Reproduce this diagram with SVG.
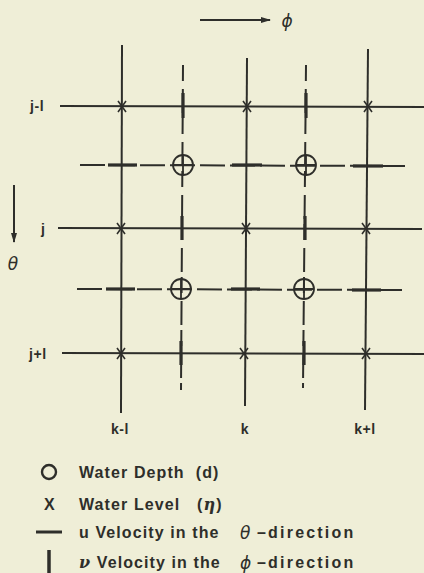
<svg xmlns="http://www.w3.org/2000/svg" width="424" height="573" viewBox="0 0 424 573">
<defs>
<style>
.ln{stroke:#2e2e2a;stroke-width:2;fill:none;stroke-linecap:butt}
.dl{stroke:#2e2e2a;stroke-width:2;fill:none;stroke-dasharray:25 5}
.dv{stroke:#2e2e2a;stroke-width:2;fill:none;stroke-dasharray:16 8 24 5}
.thk{stroke:#2e2e2a;stroke-width:3.2;fill:none}
.cir{stroke:#2e2e2a;stroke-width:1.8;fill:none}
.xm{stroke:#2e2e2a;stroke-width:1.6;fill:none}
.lb{font-family:"Liberation Sans",Arial,sans-serif;font-size:14px;font-weight:bold;fill:#2e2e2a;letter-spacing:0.6px}
.lg{font-family:"Liberation Sans",Arial,sans-serif;font-size:16px;font-weight:bold;fill:#2e2e2a;letter-spacing:1.1px}
.dir{letter-spacing:2.2px}
.gk{font-family:"DejaVu Sans",sans-serif;font-size:17px;font-style:italic;fill:#2e2e2a}
</style>
<marker id="ah" markerWidth="10" markerHeight="8" refX="9" refY="4" orient="auto" markerUnits="userSpaceOnUse">
<path d="M0,1 L10,4 L0,7 Z" fill="#2e2e2a"/>
</marker>
</defs>
<rect width="424" height="573" fill="#efeed7"/>
<g id="connectors">
<line class="ln" x1="200" y1="20" x2="270" y2="20" marker-end="url(#ah)"/>
<line class="ln" x1="14" y1="185" x2="14" y2="242" marker-end="url(#ah)"/>
<line class="ln" x1="122" y1="45" x2="121" y2="413"/>
<line class="ln" x1="247" y1="58" x2="245" y2="406"/>
<line class="ln" x1="368" y1="49" x2="365" y2="410"/>
<line class="ln" x1="60" y1="106" x2="424" y2="107"/>
<line class="ln" x1="58" y1="228" x2="422" y2="229"/>
<line class="ln" x1="62" y1="353" x2="424" y2="354"/>
<line class="dv" x1="183" y1="65" x2="181" y2="390"/>
<line class="dv" x1="306" y1="65" x2="303" y2="388"/>
<line class="dl" x1="80" y1="165" x2="405" y2="166"/>
<line class="dl" x1="77" y1="289" x2="402" y2="290"/>
</g>
<g id="v-velocity">
<line class="thk" x1="183" y1="93" x2="183" y2="118"/>
<line class="thk" x1="306" y1="93" x2="306" y2="118"/>
<line class="thk" x1="182" y1="216" x2="182" y2="240"/>
<line class="thk" x1="305" y1="216" x2="305" y2="240"/>
<line class="thk" x1="181" y1="341" x2="181" y2="365"/>
<line class="thk" x1="304" y1="341" x2="304" y2="365"/>
</g>
<g id="u-velocity">
<line class="thk" x1="108" y1="165" x2="137" y2="165"/>
<line class="thk" x1="232" y1="165" x2="262" y2="165"/>
<line class="thk" x1="353" y1="166" x2="383" y2="166"/>
<line class="thk" x1="106" y1="289" x2="135" y2="289"/>
<line class="thk" x1="231" y1="289" x2="260" y2="289"/>
<line class="thk" x1="352" y1="290" x2="381" y2="290"/>
</g>
<g id="depth">
<circle class="cir" cx="183" cy="165" r="10" fill="#efeed7"/>
<circle class="cir" cx="306" cy="165" r="10" fill="#efeed7"/>
<circle class="cir" cx="181" cy="289" r="10" fill="#efeed7"/>
<circle class="cir" cx="304" cy="289" r="10" fill="#efeed7"/>
<path class="cir" d="M173,165 H193 M183,155 V175 M296,165 H316 M306,155 V175 M171,289 H191 M181,279 V299 M294,289 H314 M304,279 V299"/>
</g>
<g id="level">
<path class="xm" d="M118,101 L126,112 M126,101 L118,112 M243,101 L251,112 M251,101 L243,112 M364,101 L372,112 M372,101 L364,112"/>
<path class="xm" d="M117,223 L125,234 M125,223 L117,234 M242,223 L250,234 M250,223 L242,234 M362,223 L370,234 M370,223 L362,234"/>
<path class="xm" d="M117,348 L125,359 M125,348 L117,359 M240,348 L248,359 M248,348 L240,359 M362,348 L370,359 M370,348 L362,359"/>
</g>
<g id="labels">
<text class="gk" x="287" y="27" text-anchor="middle">ϕ</text>
<text class="gk" x="13" y="270" text-anchor="middle">θ</text>
<text class="lb" x="30" y="111">j-l</text>
<text class="lb" x="41" y="234">j</text>
<text class="lb" x="29" y="359">j+l</text>
<text class="lb" x="120" y="434" text-anchor="middle">k-l</text>
<text class="lb" x="245" y="434" text-anchor="middle">k</text>
<text class="lb" x="365" y="434" text-anchor="middle">k+l</text>
</g>
<g id="legend">
<circle cx="49" cy="472" r="7" stroke="#2e2e2a" stroke-width="2.4" fill="none"/>
<text class="lg" x="79" y="478">Water Depth&#160; (d)</text>
<text class="lg" x="44" y="510">X</text>
<text class="lg" x="79" y="510">Water Level&#160;&#160; (<tspan font-style="italic" font-family="DejaVu Serif,serif">η</tspan>)</text>
<line x1="36" y1="532" x2="62" y2="532" stroke="#2e2e2a" stroke-width="3"/>
<text class="lg" x="79" y="538">u Velocity in the</text>
<text class="gk" x="240" y="539">θ</text>
<text class="lg dir" x="257" y="538">–direction</text>
<line x1="49" y1="550" x2="49" y2="573" stroke="#2e2e2a" stroke-width="3.5"/>
<text class="lg" x="79" y="568"><tspan font-style="italic" font-family="DejaVu Serif,serif">ν</tspan> Velocity in the</text>
<text class="gk" x="240" y="569">ϕ</text>
<text class="lg dir" x="257" y="568">–direction</text>
</g>
</svg>
